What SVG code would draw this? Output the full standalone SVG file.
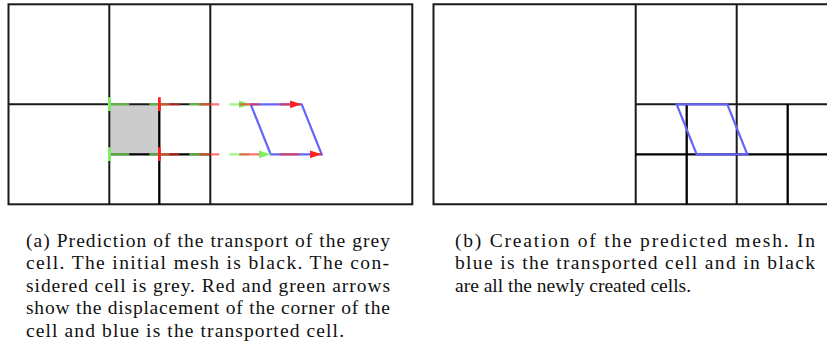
<svg xmlns="http://www.w3.org/2000/svg" width="827" height="348" viewBox="0 0 827 348">
<style>
.mesh{fill:none;stroke:#1a1a1a;stroke-width:2}
.bold{fill:none;stroke:#000;stroke-width:2.3}
.cellg{fill:#cccccc;stroke:none}
.blue{fill:none;stroke:#6464f8;stroke-width:2.2;stroke-linejoin:miter}
.ga{fill:none;stroke:#7cf05a;stroke-opacity:0.72;stroke-width:2.2;stroke-dasharray:20 20}
.ra{fill:none;stroke:#ff2a2a;stroke-opacity:0.65;stroke-width:2.2;stroke-dasharray:20 20}
text{font-family:'Liberation Serif','Times New Roman',serif;font-size:19.5px;fill:#111}
</style>
<defs>
<marker id="hg" viewBox="0 0 12 8" refX="12" refY="4" markerWidth="12" markerHeight="8" markerUnits="userSpaceOnUse" orient="auto"><path d="M0,0 L12,4 L0,8 z" fill="#80f060"/></marker>
<marker id="hr" viewBox="0 0 12 8" refX="12" refY="4" markerWidth="12" markerHeight="8" markerUnits="userSpaceOnUse" orient="auto"><path d="M0,0 L12,4 L0,8 z" fill="#ff2020"/></marker>
<marker id="tg" viewBox="0 0 3 14" refX="1.5" refY="7" markerWidth="3" markerHeight="14" markerUnits="userSpaceOnUse" orient="auto"><rect x="0" y="0" width="3" height="14" fill="#80f060"/></marker>
<marker id="tr" viewBox="0 0 3 14" refX="1.5" refY="7" markerWidth="3" markerHeight="14" markerUnits="userSpaceOnUse" orient="auto"><rect x="0" y="0" width="3" height="14" fill="#ff2020"/></marker>
</defs>

<g id="panel-a">
  <g id="a-grey-cell"><rect class="cellg" x="109.3" y="104.3" width="50" height="50"/></g>
  <g id="a-mesh">
    <rect class="mesh" x="8.5" y="4.3" width="403.8" height="200"/>
    <line class="mesh" x1="109.3" y1="4.3" x2="109.3" y2="204.3"/>
    <line class="mesh" x1="210.3" y1="4.3" x2="210.3" y2="204.3"/>
    <line class="mesh" x1="8.5" y1="104.3" x2="210.3" y2="104.3"/>
    <line class="bold" x1="159.3" y1="104.3" x2="159.3" y2="204.3"/>
    <line class="bold" x1="109.3" y1="154.3" x2="210.3" y2="154.3"/>
  </g>
  <g id="a-transported-cell"><polygon class="blue" points="250.7,104.3 301.7,104.3 321.7,154.3 270.7,154.3"/></g>
</g>

<g id="connectors">
  <path class="ga" d="M109.3,104.3 H250.7" marker-start="url(#tg)" marker-end="url(#hg)"/>
  <path class="ga" d="M109.3,154.3 H270.7" marker-start="url(#tg)" marker-end="url(#hg)"/>
  <path class="ra" d="M159.3,104.3 H301.7" marker-start="url(#tr)" marker-end="url(#hr)"/>
  <path class="ra" d="M159.3,154.3 H321.7" marker-start="url(#tr)" marker-end="url(#hr)"/>
</g>

<g id="panel-b">
  <g id="b-mesh">
    <path class="mesh" d="M828,4.3 H433.5 V204.3 H828"/>
    <line class="mesh" x1="635.7" y1="4.3" x2="635.7" y2="204.3"/>
    <line class="mesh" x1="736.7" y1="4.3" x2="736.7" y2="204.3"/>
    <line class="mesh" x1="635.7" y1="104.3" x2="828" y2="104.3"/>
    <line class="bold" x1="635.7" y1="154.3" x2="828" y2="154.3"/>
    <line class="bold" x1="686.7" y1="104.3" x2="686.7" y2="204.3"/>
    <line class="bold" x1="787.7" y1="104.3" x2="787.7" y2="204.3"/>
  </g>
  <g id="b-transported-cell"><polygon class="blue" points="676.7,104.3 727.3,104.3 747.3,154.3 696.7,154.3"/></g>
</g>

<g id="caption-a">
  <text x="26" y="247" textLength="364" lengthAdjust="spacing">(a) Prediction of the transport of the grey</text>
  <text x="26" y="269.4" textLength="363" lengthAdjust="spacing">cell.  The initial mesh is black.  The con-</text>
  <text x="26" y="291.8" textLength="364" lengthAdjust="spacing">sidered cell is grey. Red and green arrows</text>
  <text x="26" y="314.2" textLength="364" lengthAdjust="spacing">show the displacement of the corner of the</text>
  <text x="26" y="336.6" textLength="318" lengthAdjust="spacing">cell and blue is the transported cell.</text>
</g>
<g id="caption-b">
  <text x="455" y="247" textLength="360" lengthAdjust="spacing">(b) Creation of the predicted mesh.  In</text>
  <text x="455" y="269.4" textLength="360" lengthAdjust="spacing">blue is the transported cell and in black</text>
  <text x="455" y="291.8">are all the newly created cells.</text>
</g>
</svg>
